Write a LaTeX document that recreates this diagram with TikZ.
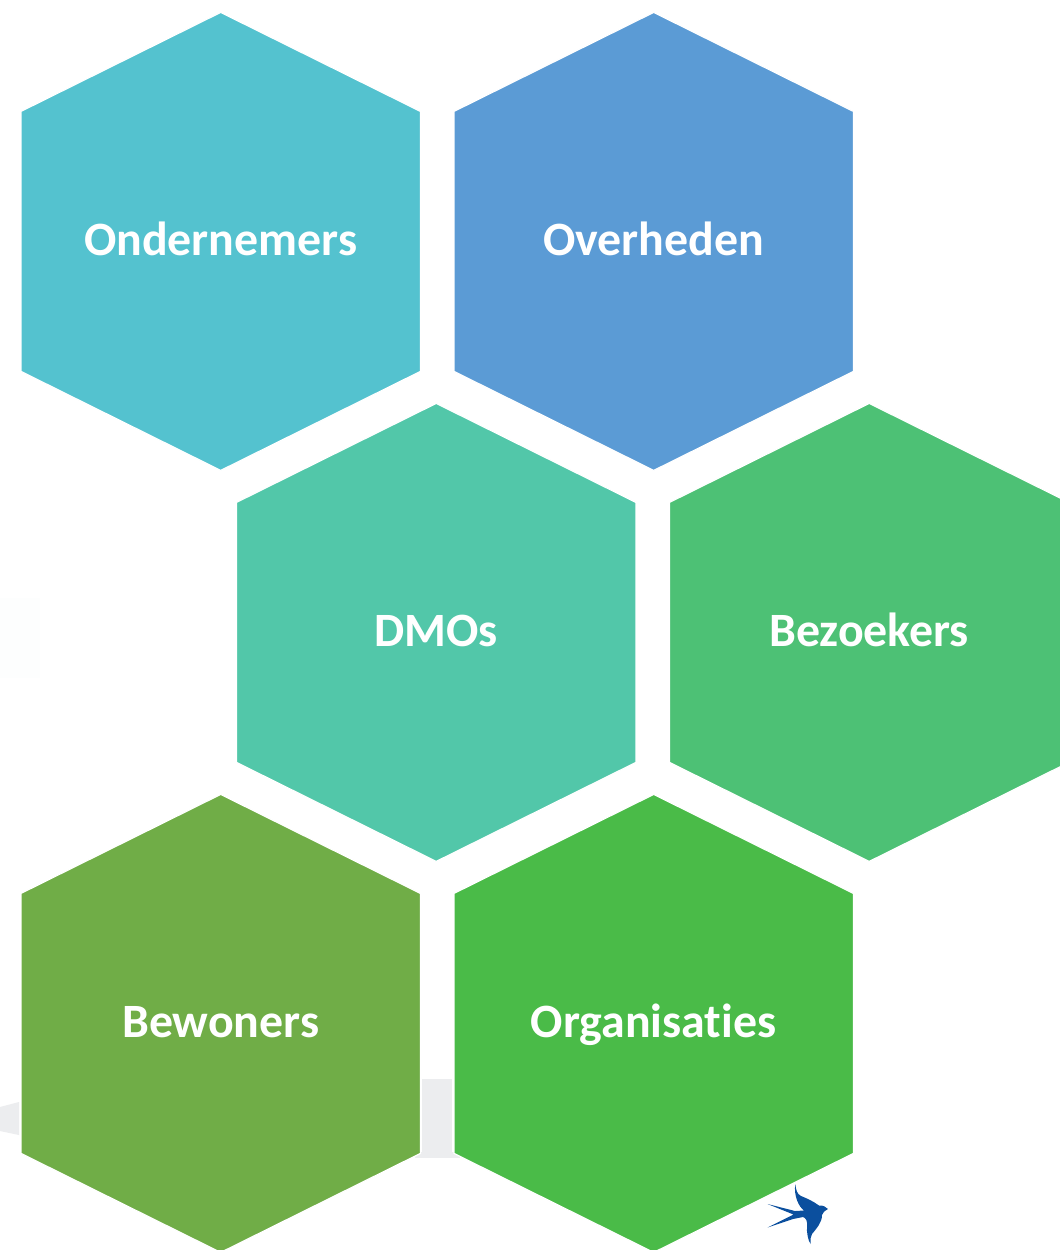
\documentclass[tikz,border=0pt]{standalone}
\usepackage{fontspec}
\setmainfont[Ligatures=NoCommon]{Carlito}
\definecolor{hexteal}{HTML}{54C2CF}
\definecolor{hexblue}{HTML}{5B9BD5}
\definecolor{hexmint}{HTML}{52C7A9}
\definecolor{hexgreen}{HTML}{4DC175}
\definecolor{hexolive}{HTML}{70AD47}
\definecolor{hexvivid}{HTML}{4ABB48}
\definecolor{ghost}{HTML}{ECEDEF}
\definecolor{ghostfaint}{HTML}{FDFEFE}
\definecolor{birdblue}{HTML}{0B4F9E}
\tikzset{
  hexfill/.style={fill=#1,draw=white,line width=0.9pt,line join=miter},
  hexlabel/.style={text=white,font=\bfseries\fontsize{35.9}{38}\selectfont,inner sep=0pt,anchor=base}
}
\newcommand{\hexa}[5]{%
  \begin{scope}[shift={(#2,#3)}]
    \path[hexfill=#4] (0,-229) -- (199.7,-130) -- (199.7,130) -- (0,229) -- (-199.7,130) -- (-199.7,-130) -- cycle;
    \node[hexlabel] (#1) at (0,14) {#5};
  \end{scope}}
\begin{document}
\begin{tikzpicture}[x=0.75pt,y=-0.75pt]
\useasboundingbox (0,0) rectangle (1060,1250);
\clip (0,0) rectangle (1060,1250);
\fill[white] (0,0) rectangle (1060,1250);
\fill[ghostfaint] (0,598) rectangle (40,678);
\fill[ghost] (422,1079) rectangle (452,1158);
\fill[ghost] (415,1152) -- (460,1152) -- (460,1158) -- (415,1158) -- cycle;
\fill[ghost] (0,1107) -- (19,1102) -- (19,1135) -- (0,1131) -- cycle;
\hexa{ondernemers}{220.7}{241.4}{hexteal}{Ondernemers}
\hexa{overheden}{653.7}{241.4}{hexblue}{Overheden}
\hexa{dmos}{436.2}{632.4}{hexmint}{DMOs}
\hexa{bezoekers}{869.2}{632.4}{hexgreen}{Bezoekers}
\hexa{bewoners}{220.7}{1023.4}{hexolive}{Bewoners}
\hexa{organisaties}{653.7}{1023.4}{hexvivid}{Organisaties}
\fill[birdblue] (795.3,1184) .. controls (796,1190) and (797,1194) .. (801,1196)
  .. controls (806,1198) and (813,1201) .. (819,1205.5)
  .. controls (823,1205) and (826,1207) .. (828,1209)
  .. controls (825,1211) and (822.5,1212) .. (822,1215)
  .. controls (822,1223) and (816,1229) .. (812,1234)
  .. controls (810,1237) and (810.5,1240) .. (810.7,1244)
  .. controls (808,1241) and (806.5,1232) .. (807,1226)
  .. controls (807.5,1221) and (806,1218) .. (803,1217)
  -- (793,1219) -- (767.5,1227.5) -- (793.5,1214.5) -- (767.5,1204) -- (795,1211)
  -- (804,1210.5)
  .. controls (799,1207) and (793.5,1196) .. (795.3,1184) -- cycle;
\end{tikzpicture}
\end{document}
